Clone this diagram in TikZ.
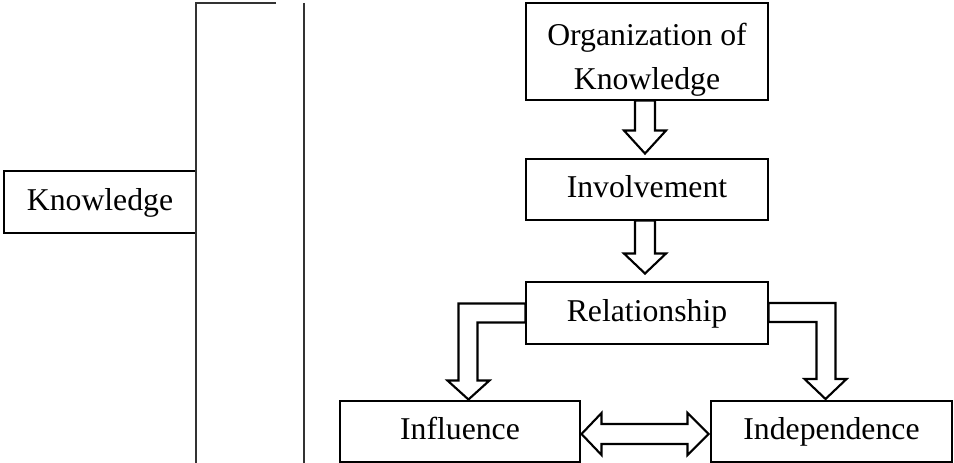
\documentclass[tikz,border=0pt]{standalone}
\usepackage{fontspec}
\setmainfont{Liberation Serif}
\usetikzlibrary{calc}
\begin{document}
\begin{tikzpicture}[x=0.75pt,y=-0.75pt,
  box/.style={draw=black,line width=0.8pt,inner sep=0pt,align=center,
    font=\fontsize{23.8}{33}\selectfont,text height=15.7pt,text depth=3pt},
  txt/.style={inner sep=0pt,align=center,font=\fontsize{23.8}{33}\selectfont},
  blk/.style={draw=black,line width=1.6pt,fill=white,line join=miter},
  rule/.style={draw=black!80,line width=0.9pt}]
\useasboundingbox (0,0) rectangle (954,463);
\node[box,minimum width=192*0.75pt,minimum height=62*0.75pt] (kn) at (100,202) {Knowledge};
\node[box,minimum width=242*0.75pt,minimum height=97*0.75pt] (org) at (647,51.5) {};
\node[txt] (orgt) at (647,59.5) {Organization of\\Knowledge};
\node[box,minimum width=242*0.75pt,minimum height=61*0.75pt] (inv) at (647,189.5) {Involvement};
\node[box,minimum width=242*0.75pt,minimum height=62*0.75pt] (rel) at (647,313) {Relationship};
\node[box,minimum width=240*0.75pt,minimum height=61*0.75pt] (inf) at (460,431.5) {Influence};
\node[box,minimum width=241*0.75pt,minimum height=61*0.75pt] (ind) at (831.5,431.5) {Independence};
% bracket and divider
\coordinate (btop) at (196,3);
\coordinate (bend) at (276,3);
\coordinate (bbot) at (196,463);
\coordinate (dtop) at (304,3);
\coordinate (dbot) at (304,463);
\draw[rule] (bend) -- (btop) -- (bbot);
\draw[rule] (dtop) -- (dbot);
% down arrows
\draw[blk] ($(org.south)+(-12,0)$) -- ++(0,30) -- ++(-11,0) -- ++(21,23) -- ++(21,-23) -- ++(-11,0) -- ++(0,-30) -- cycle;
\draw[blk] ($(inv.south)+(-12,0)$) -- ++(0,33) -- ++(-11,0) -- ++(21,20) -- ++(21,-20) -- ++(-11,0) -- ++(0,-33) -- cycle;
% elbow arrows
\draw[blk] ($(rel.west)+(0,-9.5)$) -- ++(-67,0) -- ++(0,77) -- ++(-11,0) -- ++(21,19) -- ++(21,-19) -- ++(-12,0) -- ++(0,-58) -- ++(48,0) -- cycle;
\draw[blk] ($(rel.east)+(0,-10)$) -- ++(67,0) -- ++(0,76) -- ++(11,0) -- ++(-21,20) -- ++(-21,-20) -- ++(12,0) -- ++(0,-57) -- ++(-48,0) -- cycle;
% double arrow
\draw[blk] ($(inf.east)+(1,2.5)$) -- ++(20,-21) -- ++(0,11) -- ++(86,0) -- ++(0,-11) -- ++(21,21) -- ++(-21,21) -- ++(0,-11) -- ++(-86,0) -- ++(0,11) -- cycle;
\end{tikzpicture}
\end{document}
